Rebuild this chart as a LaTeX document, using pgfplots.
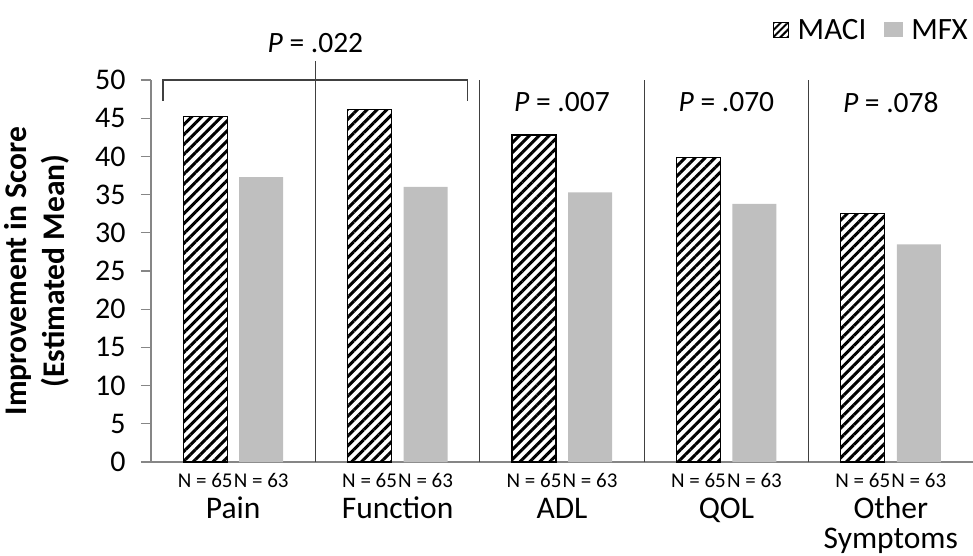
\documentclass[border=0pt]{standalone}
\usepackage{fontspec}
\setmainfont{Carlito}
\usepackage{pgfplots}
\pgfplotsset{compat=1.18}
\usetikzlibrary{patterns.meta}
\definecolor{axgray}{HTML}{868686}
\definecolor{mfxgray}{HTML}{BFBFBF}
\definecolor{sepgray}{HTML}{404040}

\begin{document}
\begin{tikzpicture}
\begin{axis}[
  scale only axis, width=822pt, height=382pt,
  xmin=0, xmax=5, ymin=0, ymax=50,
  axis lines*=left,
  axis line style={axgray, line width=1.2pt},
  xtick=\empty,
  ytick={0,5,...,50},
  tick align=outside, major tick length=10pt,
  tick style={axgray, line width=1.2pt},
  yticklabel style={font=\fontsize{30}{33}\selectfont, xshift=-12pt},
  /pgf/number format/assume math mode=true,
  ylabel={Improvement in Score\\(Estimated Mean)},
  ylabel style={font=\fontsize{31.5}{38}\selectfont\bfseries, align=center,
    at={(axis description cs:-0.1825,0.5)}, anchor=north},
  clip=false,
  legend columns=-1,
  legend style={at={(1,1.13)}, anchor=east, draw=none, fill=none,
    font=\fontsize{31}{34}\selectfont,
    /tikz/every odd column/.append style={column sep=6pt},
    /tikz/every even column/.append style={column sep=16pt}},
]
% MACI
\addplot[ybar, bar width=44pt, bar shift=-28pt, draw=black, line width=1.1pt,
  pattern={Lines[angle=45,distance=7pt,line width=3pt]}, pattern color=black,
  legend image code/.code={\draw[black, line width=0.8pt,
    pattern={Lines[angle=45,distance=5pt,line width=2pt]}] (0pt,-7pt) rectangle (15pt,8pt);}]
  coordinates {(0.5,45.2) (1.5,46.1) (2.5,42.8) (3.5,39.8) (4.5,32.5)};
% MFX
\addplot[ybar, bar width=44pt, bar shift=28pt, draw=none, fill=mfxgray,
  legend image code/.code={\fill[mfxgray] (0pt,-7pt) rectangle (19pt,8pt);}]
  coordinates {(0.5,37.3) (1.5,36.0) (2.5,35.3) (3.5,33.8) (4.5,28.5)};
\legend{MACI, MFX}

% separators
\draw[sepgray, line width=1.2pt] (axis cs:1,0) -- (axis cs:1,52.5);
\draw[sepgray, line width=1.2pt] (axis cs:2,0) -- (axis cs:2,50);
\draw[sepgray, line width=1.2pt] (axis cs:3,0) -- (axis cs:3,50);
\draw[sepgray, line width=1.2pt] (axis cs:4,0) -- (axis cs:4,50);
% bracket
\draw[sepgray, line width=1.2pt] (axis cs:0.073,47.3) -- (axis cs:0.073,50)
  -- (axis cs:1.927,50) -- (axis cs:1.927,47.3);

% p-values
\node[font=\fontsize{29.5}{32}\selectfont] at (axis cs:1,54.8) {\textit{P} = .022};
\node[font=\fontsize{29.5}{32}\selectfont] at (axis cs:2.5,47.1) {\textit{P} = .007};
\node[font=\fontsize{29.5}{32}\selectfont] at (axis cs:3.5,47.1) {\textit{P} = .070};
\node[font=\fontsize{29.5}{32}\selectfont] at (axis cs:4.5,47.1) {\textit{P} = .078};

% group sizes
\pgfplotsinvokeforeach{0.5,1.5,2.5,3.5,4.5}{
  \node[anchor=base, xshift=-28pt, yshift=-25pt, font=\fontsize{21}{24}\selectfont] at (axis cs:#1,0) {N = 65};
  \node[anchor=base, xshift=28pt, yshift=-25pt, font=\fontsize{21}{24}\selectfont] at (axis cs:#1,0) {N = 63};
}

% categories
\node[anchor=base, yshift=-56pt, font=\fontsize{31.5}{34}\selectfont] at (axis cs:0.5,0) {Pain};
\node[anchor=base, yshift=-56pt, font=\fontsize{31.5}{34}\selectfont] at (axis cs:1.5,0) {Function};
\node[anchor=base, yshift=-56pt, font=\fontsize{31.5}{34}\selectfont] at (axis cs:2.5,0) {ADL};
\node[anchor=base, yshift=-56pt, font=\fontsize{31.5}{34}\selectfont] at (axis cs:3.5,0) {QOL};
\node[anchor=base, yshift=-56pt, font=\fontsize{31.5}{34}\selectfont] at (axis cs:4.5,0) {Other};
\node[anchor=base, yshift=-86pt, font=\fontsize{31.5}{34}\selectfont] at (axis cs:4.5,0) {Symptoms};
\end{axis}
\pgfresetboundingbox
\useasboundingbox ([xshift=-151pt,yshift=-94pt]current axis.south west) rectangle ([yshift=80pt]current axis.north east);
\end{tikzpicture}
\end{document}
